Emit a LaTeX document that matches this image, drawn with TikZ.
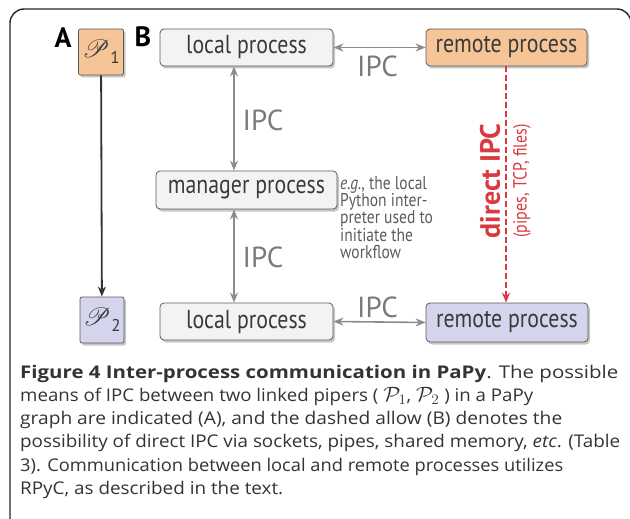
\documentclass[tikz,border=0pt]{standalone}
\usepackage{fontspec}
\usepackage{graphicx}
\usepackage{mathrsfs}
\usetikzlibrary{shadows,arrows.meta}
\setmainfont{Open Sans}
\newfontfamily\cond[FakeStretch=0.84]{PT Sans}
\newfontfamily\ptsans{PT Sans}
\definecolor{orF}{HTML}{F5C497}
\definecolor{lavF}{HTML}{D4D4EC}
\definecolor{grF}{HTML}{F3F4F2}
\definecolor{bxD}{HTML}{5A5A5A}
\definecolor{txt}{HTML}{3A3A3A}
\definecolor{ipcG}{HTML}{7A7A7A}
\definecolor{arG}{HTML}{8C8C8C}
\definecolor{redC}{HTML}{D93A40}
\definecolor{noteG}{HTML}{5C5C5C}
\tikzset{
  proc/.style={draw=bxD, line width=0.8pt, rounded corners=4pt, fill=grF,
    inner sep=0pt, minimum height=37pt, text=txt,
    font=\cond\fontsize{26}{26}\selectfont,
    drop shadow={shadow xshift=2pt, shadow yshift=-2.5pt, opacity=0.22, fill=black}},
  pbox/.style={draw=bxD, line width=0.8pt, rounded corners=2pt, inner sep=0pt,
    minimum width=45pt, minimum height=46pt, text=txt,
    drop shadow={shadow xshift=2pt, shadow yshift=-2.5pt, opacity=0.22, fill=black}},
  ipcarrow/.style={draw=arG, line width=1.6pt, {Stealth[length=10pt,width=8pt]}-{Stealth[length=10pt,width=8pt]}},
  ipclab/.style={text=ipcG, font=\ptsans\fontsize{29}{29}\selectfont, inner sep=0pt},
  panel/.style={text=black, font=\ptsans\bfseries\fontsize{28}{28}\selectfont, inner sep=0pt},
  capline/.style={anchor=base west, inner sep=0pt, text=black!80, font=\fontsize{17.5}{23}\selectfont}
}
\newcommand{\pipersym}[1]{{\fontsize{30}{30}\selectfont$\mathscr{P}$}\hspace{1pt}\raisebox{-6pt}{\ptsans\fontsize{17}{17}\selectfont #1}}
\newcommand{\capP}[1]{{\fontsize{22}{22}\selectfont$\mathcal{P}_{#1}$}}
\newcommand{\capfit}[2]{\resizebox{#1}{\height}{#2}}
\begin{document}
\begin{tikzpicture}[x=1pt,y=-1pt]
\useasboundingbox (0,0) rectangle (630,519);
\clip (0,0) rectangle (630,519);
% frame
\draw[line width=1.4pt, draw=black!85] (10,530) -- (10,23) arc[start angle=180, end angle=270, radius=14] -- (617,9) arc[start angle=270, end angle=360, radius=14] -- (631,530);
% panel labels
\node[panel] (labA) at (63,38) {A};
\node[panel] (labB) at (143,37) {B};
% piper boxes
\node[pbox, fill=orF] (p1) at (101,52) {\pipersym{1}};
\node[pbox, fill=lavF, minimum width=44pt] (p2) at (102,320) {\pipersym{2}};
\draw[draw=black!80, line width=1.8pt, -{Stealth[length=10pt,width=8pt]}] (p1) -- (p2);
% process boxes
\node[proc, minimum width=173pt] (lt) at (246.5,47.5) {local process};
\node[proc, minimum width=161pt, fill=orF] (rt) at (506.5,47.5) {remote process};
\node[proc, minimum width=181pt, minimum height=38pt] (mg) at (246.5,190) {manager process};
\node[proc, minimum width=173pt] (lb) at (246.5,321.5) {local process};
\node[proc, minimum width=162pt, minimum height=39pt, fill=lavF] (rb) at (507,322.5) {remote process};
\coordinate (vx) at (234,0);
\coordinate (rx) at (506,0);
% IPC arrows
\draw[ipcarrow] (lt.east) -- (rt.west);
\draw[ipcarrow] (lt.south -| vx) -- (mg.north -| vx);
\draw[ipcarrow] (mg.south -| vx) -- (lb.north -| vx);
\draw[ipcarrow] (lb.east) -- (rb.west);
\node[ipclab] (i1) at (377.5,66) {IPC};
\node[ipclab] (i2) at (263,120) {IPC};
\node[ipclab] (i3) at (263,257) {IPC};
\node[ipclab] (i4) at (377.5,307) {IPC};
% direct IPC
\draw[draw=redC, line width=1.3pt, dash pattern=on 6pt off 3pt, -{Stealth[length=10pt,width=8pt]}] (rt.south -| rx) -- (rb.north -| rx);
\node[rotate=90, text=redC, inner sep=0pt, font=\ptsans\bfseries\fontsize{28}{28}\selectfont] (dl) at (490,181) {direct IPC};
\node[rotate=90, text=redC, inner sep=0pt, font=\cond\fontsize{19}{19}\selectfont] (dp) at (522,181) {(pipes, TCP, files)};
% note
\node[anchor=north west, inner sep=0pt, text=noteG, align=left, font=\cond\fontsize{18.5}{17.4}\selectfont] (note) at (340,176) {\textit{e.g.}, the local\\Python inter-\\preter used to\\initiate the\\workflow};
% caption
\node[capline] (c1) at (20,378) {\capfit{598pt}{\textbf{Figure 4 Inter-process communication in PaPy}. The possible}};
\node[capline] (c2) at (20,401.3) {\capfit{513pt}{means of IPC between two linked pipers ( \capP{1},\ \capP{2} ) in a PaPy}};
\node[capline] (c3) at (20,424.6) {\capfit{542pt}{graph are indicated (A), and the dashed allow (B) denotes the}};
\node[capline] (c4) at (20,447.9) {\capfit{600pt}{possibility of direct IPC via sockets, pipes, shared memory, \textit{etc}. (Table}};
\node[capline] (c5) at (20,471.2) {\capfit{543pt}{3). Communication between local and remote processes utilizes}};
\node[capline] (c6) at (20,494.5) {\capfit{263pt}{RPyC, as described in the text.}};
\end{tikzpicture}
\end{document}
